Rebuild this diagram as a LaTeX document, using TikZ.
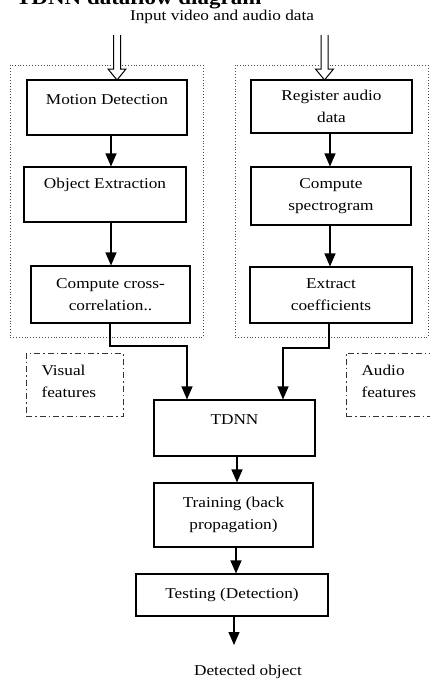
\documentclass[tikz,border=0pt]{standalone}
\usepackage{fontspec}
\setmainfont[FakeStretch=1.15]{Liberation Serif}
\usetikzlibrary{arrows.meta}
\begin{document}
\begin{tikzpicture}[x=1pt,y=-1pt,
  font=\fontsize{15}{22}\selectfont,
  box/.style={draw, line width=1.1pt, inner sep=0pt, align=center},
  grp/.style={draw=black!70, dotted, line width=0.9pt, inner sep=0pt},
  feat/.style={draw=black!80, line width=0.9pt, dash pattern=on 6pt off 3pt on 1.5pt off 3pt, inner sep=0pt},
  arr/.style={line width=1.1pt, -{Triangle[width=11pt,length=13pt]}},
  hollow/.style={line width=1pt, fill=white}
]
\useasboundingbox (0,0) rectangle (430,681);

% title (cut off at the top, as in the reference)
\node[anchor=base east, font=\fontsize{20}{24}\selectfont\bfseries] (title) at (265,4) {TDNN dataflow diagram};
\node (input) at (222,17) {Input video and audio data};

% groups
\node[grp, minimum width=193pt, minimum height=272pt] (lgrp) at (106.5,201) {};
\node[grp, minimum width=193pt, minimum height=272pt] (rgrp) at (331.5,201) {};

% visual branch
\node[box, minimum width=160pt, minimum height=55pt,
  label={[name=mdt, yshift=7.5pt]center:Motion Detection}] (md) at (107,107.5) {};
\node[box, minimum width=162pt, minimum height=55pt,
  label={[name=oet, yshift=9.5pt]center:Object Extraction}] (oe) at (105,194.5) {};
\node[box, minimum width=159pt, minimum height=57pt] (cc) at (110.5,294.5) {Compute cross-\\correlation..};

% audio branch
\node[box, minimum width=161pt, minimum height=53pt] (ra) at (331.5,106.5) {Register audio\\data};
\node[box, minimum width=160pt, minimum height=58pt] (cs) at (331,196) {Compute\\spectrogram};
\node[box, minimum width=162pt, minimum height=56pt] (ec) at (331,295) {Extract\\coefficients};

% feature labels
\node[feat, minimum width=97pt, minimum height=63pt] (vf) at (74.5,384.5) {};
\node[anchor=west, align=left] (vft) at (38,381) {Visual\\features};
\node[feat, minimum width=94pt, minimum height=63pt] (af) at (393,384.5) {};
\node[anchor=west, align=left] (aft) at (358,381) {Audio\\features};

% network
\node[box, minimum width=161pt, minimum height=56pt,
  label={[name=tdnnt, yshift=8pt]center:TDNN}] (tdnn) at (234.5,428) {};
\node[box, minimum width=159pt, minimum height=64pt] (tr) at (233.5,515) {Training (back\\propagation)};
\node[box, minimum width=192pt, minimum height=42pt] (te) at (232,595) {Testing (Detection)};
\node (det) at (248,672) {Detected object};

% hollow input arrows
\coordinate (inL) at (117,35);
\coordinate (inR) at (324.5,35);
\draw[hollow] (inL) ++(-3.5,0) -- ++(0,34) -- ++(-5.5,0) -- ++(9,11) -- ++(9,-11) -- ++(-5.5,0) -- ++(0,-34);
\draw[hollow] (inR) ++(-3.5,0) -- ++(0,34) -- ++(-5.5,0) -- ++(9,11) -- ++(9,-11) -- ++(-5.5,0) -- ++(0,-34);

% connectors
\draw[arr] (111,0 |- md.south) -- (111,0 |- oe.north);
\draw[arr] (111,0 |- oe.south) -- (111,0 |- cc.north);
\draw[arr] (330,0 |- ra.south) -- (330,0 |- cs.north);
\draw[arr] (330,0 |- cs.south) -- (330,0 |- ec.north);
\draw[arr] (110,0 |- cc.south) |- (187,346) -- (187,0 |- tdnn.north);
\draw[arr] (329,0 |- ec.south) |- (283,348) -- (283,0 |- tdnn.north);
\draw[arr] (237,0 |- tdnn.south) -- (237,0 |- tr.north);
\draw[arr] (236,0 |- tr.south) -- (236,0 |- te.north);
\draw[arr] (234,0 |- te.south) -- (234,645);
\end{tikzpicture}
\end{document}
